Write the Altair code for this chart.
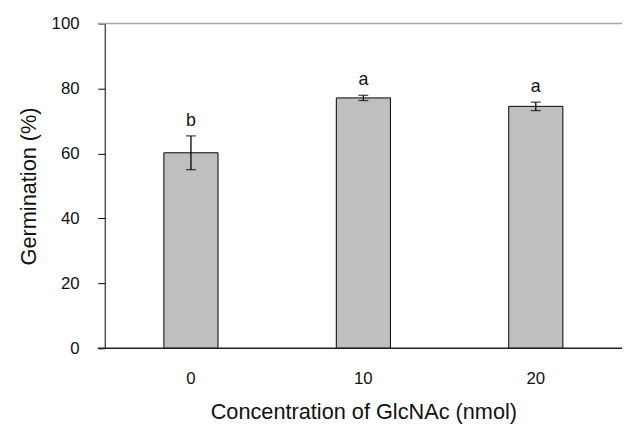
import altair as alt
import pandas as pd

categories = ["0", "10", "20"]
means = [60.2, 77.1, 74.5]
errors = [5.2, 0.8, 1.3]
letters = ["b", "a", "a"]
y_ticks = [0, 20, 40, 60, 80, 100]

df = pd.DataFrame({
    "conc": categories,
    "mean": means,
    "lo": [m - e for m, e in zip(means, errors)],
    "hi": [m + e for m, e in zip(means, errors)],
    "letter": letters,
})

FONT = "Liberation Sans"
W, H = 524, 329

x = alt.X("conc:N", sort=categories,
          scale=alt.Scale(paddingInner=0, paddingOuter=0),
          axis=alt.Axis(title="Concentration of GlcNAc (nmol)", labelAngle=0,
                        ticks=False, domain=False, labelPadding=23,
                        titlePadding=15, labelFontSize=17, titleFontSize=22,
                        labelFont=FONT, titleFont=FONT, labelColor="#111",
                        titleColor="#111", titleFontWeight="normal"))
yscale = alt.Scale(domain=[0, 100], nice=False, zero=True)
y = alt.Y("mean:Q", scale=yscale,
          axis=alt.Axis(title="Germination (%)", values=y_ticks, grid=False,
                        tickSize=7, tickColor="#000", domainColor="#000",
                        labelPadding=19, labelFontSize=17, titleFontSize=22,
                        labelFont=FONT, titleFont=FONT, labelColor="#111",
                        titleColor="#111", titleFontWeight="normal",
                        titlePadding=11))

base = alt.Chart(df)

bars = base.mark_bar(width=alt.RelativeBandSize(0.314), color="#bfbfbf",
                     stroke="#000", strokeWidth=1).encode(x=x, y=y)

rules = base.mark_rule(color="#000", strokeWidth=1.3).encode(
    x=alt.X("conc:N", sort=categories), y=alt.Y("lo:Q", scale=yscale), y2="hi:Q")

caps_hi = base.mark_tick(color="#000", size=10, thickness=1.3, orient="horizontal").encode(
    x=alt.X("conc:N", sort=categories), y=alt.Y("hi:Q", scale=yscale))
caps_lo = base.mark_tick(color="#000", size=10, thickness=1.3, orient="horizontal").encode(
    x=alt.X("conc:N", sort=categories), y=alt.Y("lo:Q", scale=yscale))

labels = base.mark_text(dy=-10, baseline="alphabetic", fontSize=18, font=FONT,
                        color="#111").encode(
    x=alt.X("conc:N", sort=categories), y=alt.Y("hi:Q", scale=yscale), text="letter:N")

top_line = alt.Chart(pd.DataFrame({"v": [100]})).mark_rule(
    color="#a6a6a6", strokeWidth=1.5).encode(
    y=alt.Y("v:Q", scale=yscale), x=alt.value(-7), x2=alt.value(W))
bottom_line = alt.Chart(pd.DataFrame({"v": [0]})).mark_rule(
    color="#222", strokeWidth=1.5).encode(
    y=alt.Y("v:Q", scale=yscale), x=alt.value(-7), x2=alt.value(W))

chart = alt.layer(bars, rules, caps_hi, caps_lo, labels, top_line, bottom_line).properties(
    width=W, height=H,
    autosize=alt.AutoSizeParams(type="none"),
    padding={"left": 98, "top": 13, "right": 0, "bottom": 78},
).configure_view(stroke=None)

chart.save("out.html", embed_options={"renderer": "svg", "actions": False})
